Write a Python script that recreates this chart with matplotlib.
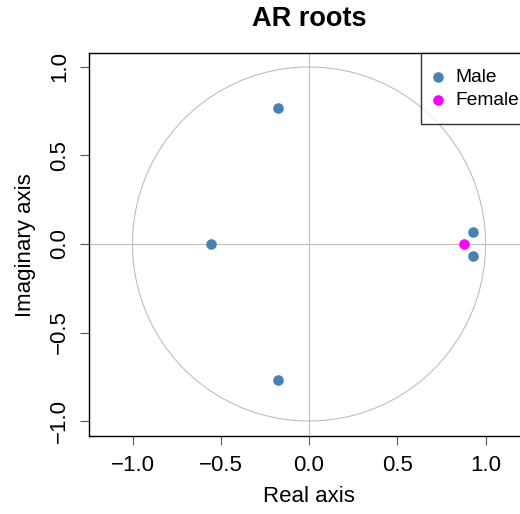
import numpy as np
import matplotlib
matplotlib.use('Agg')
from matplotlib import pyplot as plt

plt.rcParams['font.family'] = ['Liberation Sans', 'DejaVu Sans']

# inverse roots of the AR polynomials
male_re = [-0.176, -0.176, -0.555, 0.929, 0.929]
male_im = [0.768, -0.768, 0.0, 0.068, -0.068]
female_re = [0.878]
female_im = [0.0]

ticks = [-1.0, -0.5, 0.0, 0.5, 1.0]
tick_labels = ['\u22121.0', '\u22120.5', '0.0', '0.5', '1.0']

W, H = 520, 514
fig = plt.figure(figsize=(W / 100, H / 100), dpi=100)
# plot region in pixels: left 89, right 521, top 53, bottom 436
ax = fig.add_axes([89 / W, 1 - 436 / H, (521 - 89) / W, (436 - 53) / H])

# unit circle and axes through the origin
t = np.linspace(0, 2 * np.pi, 400)
ax.plot(np.cos(t), np.sin(t), color='#BEBEBE', lw=0.8, zorder=1)
ax.axhline(0, color='#BEBEBE', lw=0.8, zorder=1)
ax.axvline(0, color='#BEBEBE', lw=0.8, zorder=1)

ax.scatter(male_re, male_im, s=58, color='#4682B4', lw=0, label='Male', zorder=3)
ax.scatter(female_re, female_im, s=58, color='#FF00FF', lw=0, label='Female', zorder=3)

ax.set_xlim(-1.2465, 1.201)
ax.set_ylim(-1.0847, 1.079)

ax.set_xticks(ticks)
ax.set_xticklabels(tick_labels)
ax.set_yticks(ticks)
ax.set_yticklabels(tick_labels, rotation=90, va='center')
ax.tick_params(labelsize=16, length=6.5, width=0.8, pad=7, color='#555555')

for sp in ax.spines.values():
    sp.set_linewidth(1.0)

leg = ax.legend(loc='upper left', bbox_to_anchor=(0.769, 1.0), borderaxespad=0,
                fontsize=13.8, frameon=True, fancybox=False, edgecolor='black',
                handletextpad=0.8, handlelength=0.2, labelspacing=0.3,
                borderpad=0.8, scatterpoints=1, markerscale=1.0)
leg.get_frame().set_linewidth(1.0)

fig.text(309 / W, 1 - 19 / H, 'AR roots', ha='center', va='center',
         fontsize=19.5, fontweight='bold')
fig.text(309 / W, 1 - 497 / H, 'Real axis', ha='center', va='center', fontsize=16)
fig.text(25 / W, 1 - 245 / H, 'Imaginary axis', ha='center', va='center',
         fontsize=16, rotation=90)

fig.savefig('out.png', dpi=100)
